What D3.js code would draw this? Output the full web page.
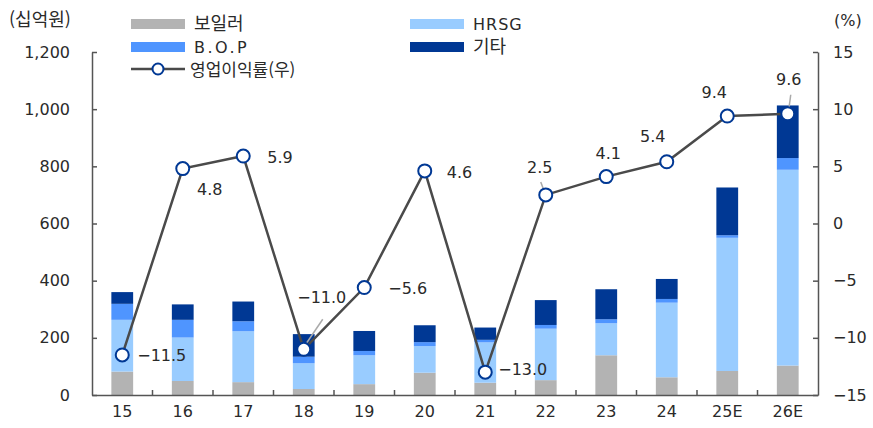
<!DOCTYPE html>
<html lang="ko">
<head>
<meta charset="UTF-8">
<title>보일러 / HRSG 매출 및 영업이익률</title>
<script src="https://cdnjs.cloudflare.com/ajax/libs/d3/7.8.5/d3.min.js"></script>
<style>
  * { margin: 0; padding: 0; }
  body { background: #fff; font-family: "DejaVu Sans", "Noto Sans CJK KR", sans-serif; }
  svg text { fill: #2a2a2a; font-size: 16px; }
  svg text.kr { font-family: "Noto Sans CJK KR", sans-serif; font-size: 18px; }
  .axis path, .axis line { stroke: #555; stroke-width: 1.5; }
</style>
</head>
<body>
<svg id="chart" width="873" height="428"></svg>
<script>
// data (십억원, %)
var years = ['15', '16', '17', '18', '19', '20', '21', '22', '23', '24', '25E', '26E'];
var boiler = [82, 49, 45, 21, 38, 78, 43, 52, 139, 62, 84, 103];
var hrsg = [181, 152, 178, 90, 101, 93, 141, 180, 112, 261, 466, 685];
var bop = [56, 62, 35, 23, 15, 14, 9, 13, 14, 13, 9, 41];
var etc = [41, 54, 69, 79, 70, 59, 43, 87, 105, 70, 167, 184];
var margin = [-11.5, 4.8, 5.9, -11.0, -5.6, 4.6, -13.0, 2.5, 4.1, 5.4, 9.4, 9.6];
var leftTicks = [0, 200, 400, 600, 800, 1000, 1200];
var rightTicks = [-15, -10, -5, 0, 5, 10, 15];

var colors = { '보일러': '#b3b3b3', 'HRSG': '#99ccff', 'B.O.P': '#4f95ff', '기타': '#003894' };

// label placement relative to each marker [dx, dy, anchor]
var labelPos = [
  [15, 0, 'start'], [27, 21, 'middle'], [24, 1, 'start'], [18, -52, 'middle'],
  [24, 1, 'start'], [22, 1, 'start'], [13, -3, 'start'], [-6, -28, 'middle'],
  [2, -23, 'middle'], [-14, -25, 'middle'], [-13, -24, 'middle'], [1, -34, 'middle']
];
// leader lines [from dx,dy, to dx,dy]
var leaders = { 3: [2, -5, 19, -30], 7: [-2, -5, -5, -13], 11: [1, -4, 3, -19] };

var svg = d3.select('#chart');
var x0 = 92, x1 = 818, yTop = 52, yBot = 395;

var x = d3.scaleBand().domain(years).range([x0, x1]).paddingInner(0.64).paddingOuter(0.32);
var yL = d3.scaleLinear().domain([0, 1200]).range([yBot, yTop]);
var yR = d3.scaleLinear().domain([-15, 15]).range([yBot, yTop]);

var rows = years.map(function(y, i) {
  return { year: y, '보일러': boiler[i], 'HRSG': hrsg[i], 'B.O.P': bop[i], '기타': etc[i] };
});
var stack = d3.stack().keys(['보일러', 'HRSG', 'B.O.P', '기타'])(rows);

svg.append('g').selectAll('g').data(stack).enter().append('g')
  .attr('fill', function(d) { return colors[d.key]; })
  .selectAll('rect').data(function(d) { return d; }).enter().append('rect')
  .attr('x', function(d) { return x(d.data.year); })
  .attr('width', x.bandwidth())
  .attr('y', function(d) { return yL(d[1]); })
  .attr('height', function(d) { return yL(d[0]) - yL(d[1]); });

// axes
var styleText = function(g) {
  g.selectAll('text').style('font-size', '16px').style('font-family', 'DejaVu Sans').attr('fill', '#2a2a2a');
};
svg.append('g').attr('class', 'axis').attr('transform', 'translate(' + x0 + ',0)')
  .call(d3.axisLeft(yL).tickValues(leftTicks).tickFormat(d3.format(',')).tickSizeInner(-5).tickSizeOuter(0).tickPadding(22))
  .call(styleText);

svg.append('g').attr('class', 'axis').attr('transform', 'translate(' + x1 + ',0)')
  .call(d3.axisRight(yR).tickValues(rightTicks).tickSizeInner(-5).tickSizeOuter(0).tickPadding(15))
  .call(styleText);

var xa = svg.append('g').attr('class', 'axis').attr('transform', 'translate(0,' + yBot + ')')
  .call(d3.axisBottom(x).tickSize(0).tickSizeOuter(0).tickPadding(11))
  .call(styleText);
xa.selectAll('.tick line').remove();
xa.selectAll('line.sep').data(d3.range(1, years.length)).enter().append('line')
  .attr('class', 'sep')
  .attr('x1', function(k) { return x0 + k * x.step(); })
  .attr('x2', function(k) { return x0 + k * x.step(); })
  .attr('y1', 0).attr('y2', -5);

// unit labels
svg.append('text').attr('class', 'kr').attr('x', 9).attr('y', 20).attr('dy', '0.35em').text('(십억원)');
svg.append('text').attr('x', 834).attr('y', 20).attr('dy', '0.35em').text('(%)');

// margin line
var cx = function(i) { return x(years[i]) + x.bandwidth() / 2; };
var line = d3.line().x(function(d, i) { return cx(i); }).y(function(d) { return yR(d); });
svg.append('path').datum(margin).attr('d', line)
  .attr('fill', 'none').attr('stroke', '#4a4a4a').attr('stroke-width', 2.5);

Object.keys(leaders).forEach(function(k) {
  var i = +k, l = leaders[k];
  svg.append('line')
    .attr('x1', cx(i) + l[0]).attr('y1', yR(margin[i]) + l[1])
    .attr('x2', cx(i) + l[2]).attr('y2', yR(margin[i]) + l[3])
    .attr('stroke', '#aaa').attr('stroke-width', 1.5);
});

svg.append('g').selectAll('circle').data(margin).enter().append('circle')
  .attr('cx', function(d, i) { return cx(i); })
  .attr('cy', function(d) { return yR(d); })
  .attr('r', 6.5)
  .attr('fill', '#fff').attr('stroke', '#003894').attr('stroke-width', 2);

var fmt = function(v) { return d3.format('.1f')(v); };
svg.append('g').selectAll('text').data(margin).enter().append('text')
  .attr('x', function(d, i) { return cx(i) + labelPos[i][0]; })
  .attr('y', function(d, i) { return yR(d) + labelPos[i][1]; })
  .attr('dy', '0.35em')
  .attr('text-anchor', function(d, i) { return labelPos[i][2]; })
  .text(fmt);

// legend
var legend = [
  { name: '보일러', col: 0, row: 0, kr: true }, { name: 'HRSG', col: 1, row: 0 },
  { name: 'B.O.P', col: 0, row: 1 }, { name: '기타', col: 1, row: 1, kr: true }
];
var colX = [131, 410], rowY = [24, 47, 69];
legend.forEach(function(l) {
  svg.append('rect').attr('x', colX[l.col]).attr('y', rowY[l.row] - 5).attr('width', 54).attr('height', 10)
    .attr('fill', colors[l.name]);
  var t = svg.append('text').attr('x', colX[l.col] + 63).attr('y', rowY[l.row]).attr('dy', '0.35em').text(l.name);
  if (l.kr) t.attr('class', 'kr');
  else t.style('font-size', '16px').style('letter-spacing', l.name === 'B.O.P' ? '2.5px' : '1px');
});
svg.append('line').attr('x1', 131).attr('x2', 185).attr('y1', rowY[2]).attr('y2', rowY[2])
  .attr('stroke', '#4a4a4a').attr('stroke-width', 2.5);
svg.append('circle').attr('cx', 158).attr('cy', rowY[2]).attr('r', 5.5)
  .attr('fill', '#fff').attr('stroke', '#003894').attr('stroke-width', 2);
svg.append('text').attr('class', 'kr').attr('x', 190).attr('y', rowY[2] + 1.5).attr('dy', '0.35em')
  .style('font-size', '17px').text('영업이익률(우)');
</script>
</body>
</html>
